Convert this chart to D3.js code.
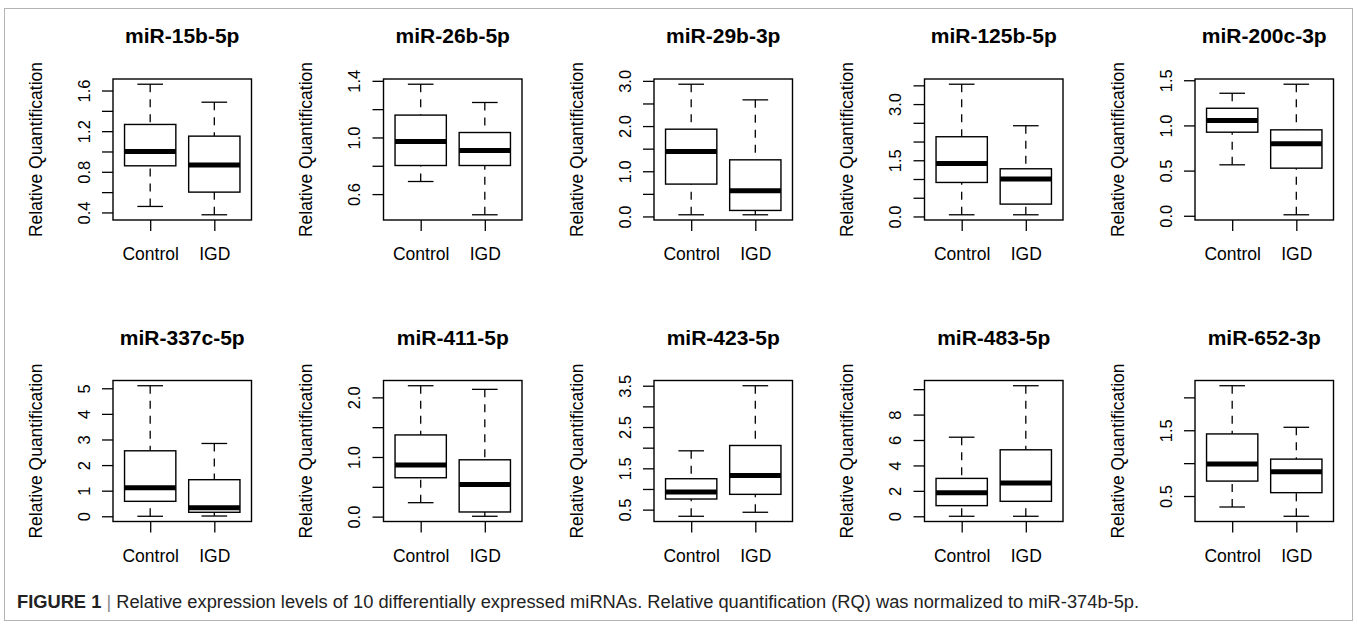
<!DOCTYPE html>
<html>
<head>
<meta charset="utf-8">
<script src="https://cdn.jsdelivr.net/npm/d3@7"></script>
<style>
  body { margin: 0; background: #fff; }
  svg { font-family: "Liberation Sans", Arial, Helvetica, sans-serif; }
</style>
</head>
<body>
<div id="chart"></div>
<script>
// panel titles, one per miRNA
var panelTitles = ["miR-15b-5p", "miR-26b-5p", "miR-29b-3p", "miR-125b-5p", "miR-200c-3p",
                   "miR-337c-5p", "miR-411-5p", "miR-423-5p", "miR-483-5p", "miR-652-3p"];

var groups = ["Control", "IGD"];

// boxplot stats: [lower whisker, Q1, median, Q3, upper whisker]
var controlStats = [
  [0.459, 0.859, 1.000, 1.266, 1.662],
  [0.689, 0.802, 0.972, 1.158, 1.376],
  [0.037, 0.716, 1.438, 1.931, 2.926],
  [0.045, 0.908, 1.416, 2.128, 3.530],
  [0.564, 0.925, 1.054, 1.190, 1.356],
  [0.000, 0.584, 1.117, 2.558, 5.100],
  [0.234, 0.652, 0.864, 1.370, 2.195],
  [0.339, 0.757, 0.926, 1.248, 1.924],
  [0.000, 0.837, 1.856, 2.980, 6.220],
  [0.333, 0.727, 0.985, 1.444, 2.177]
];
var igdStats = [
  [0.377, 0.600, 0.866, 1.151, 1.485],
  [0.454, 0.802, 0.908, 1.035, 1.247],
  [0.037, 0.133, 0.568, 1.253, 2.580],
  [0.045, 0.330, 0.997, 1.273, 2.422],
  [0.011, 0.527, 0.796, 0.951, 1.456],
  [0.010, 0.156, 0.338, 1.429, 2.844],
  [0.006, 0.078, 0.540, 0.953, 2.134],
  [0.436, 0.870, 1.329, 2.053, 3.500],
  [0.000, 1.176, 2.614, 5.230, 10.270],
  [0.192, 0.551, 0.869, 1.061, 1.545]
];

// y ticks and their labels (R skips labels that would overlap, so some are blank)
var yTicks = [
  [0.4, 0.6, 0.8, 1.0, 1.2, 1.4, 1.6],
  [0.6, 0.8, 1.0, 1.2, 1.4],
  [0, 0.5, 1.0, 1.5, 2.0, 2.5, 3.0],
  [0, 0.5, 1.0, 1.5, 2.0, 2.5, 3.0, 3.5],
  [0, 0.5, 1.0, 1.5],
  [0, 1, 2, 3, 4, 5],
  [0, 0.5, 1.0, 1.5, 2.0],
  [0.5, 1.0, 1.5, 2.0, 2.5, 3.0, 3.5],
  [0, 2, 4, 6, 8, 10],
  [0.5, 1.0, 1.5, 2.0]
];
var yTickLabels = [
  ["0.4", "", "0.8", "", "1.2", "", "1.6"],
  ["0.6", "", "1.0", "", "1.4"],
  ["0.0", "", "1.0", "", "2.0", "", "3.0"],
  ["0.0", "", "", "1.5", "", "", "3.0", ""],
  ["0.0", "0.5", "1.0", "1.5"],
  ["0", "1", "2", "3", "4", "5"],
  ["0.0", "", "1.0", "", "2.0"],
  ["0.5", "", "1.5", "", "2.5", "", "3.5"],
  ["0", "2", "4", "6", "8", ""],
  ["0.5", "", "1.5", ""]
];

var yLabel = "Relative Quantification";

var width = 1358;
var height = 626;

var svg = d3.select("#chart").append("svg")
    .attr("width", width)
    .attr("height", height)
    .attr("viewBox", [0, 0, width, height]);

// outer frame of the figure
svg.append("rect")
    .attr("x", 4.5).attr("y", 8.5)
    .attr("width", 1348).attr("height", 612)
    .attr("fill", "none")
    .attr("stroke", "#b4b4b4")
    .attr("stroke-width", 1);

var boxW = 138.5;
var boxH = 141;
var colStep = 270.5;
var rowTops = [79, 380.5];

function drawPanel(k) {
  var col = k % 5, row = Math.floor(k / 5);
  var left = 113 + col * colStep;
  var top = rowTops[row];

  var stats = [controlStats[k], igdStats[k]];
  // R pads the data range by 4% on each side
  var lo = d3.min(stats, s => s[0]);
  var hi = d3.max(stats, s => s[4]);
  var pad = (hi - lo) * 0.04;

  var y = d3.scaleLinear().domain([lo - pad, hi + pad]).range([boxH, 0]);
  var x = d3.scalePoint().domain(groups).range([0, boxW]).padding(0.58);
  var bw = x.step() * 0.8;

  var g = svg.append("g").attr("transform", `translate(${left},${top})`);

  // title
  g.append("text")
      .attr("x", boxW / 2)
      .attr("y", -36)
      .attr("text-anchor", "middle")
      .style("font-weight", "bold")
      .style("font-size", "21px")
      .text(panelTitles[k]);

  // y axis with rotated labels
  var yAxis = d3.axisLeft(y)
      .tickValues(yTicks[k])
      .tickFormat((d, i) => yTickLabels[k][i])
      .tickSize(11)
      .tickSizeOuter(0);
  g.append("g")
      .call(yAxis)
      .call(a => a.select(".domain").remove())
      .call(a => a.selectAll(".tick line").attr("stroke", "#000").attr("stroke-width", 1.3))
      .call(a => a.selectAll(".tick text")
          .attr("x", null).attr("dy", null)
          .attr("transform", "translate(-23.5,0) rotate(-90)")
          .attr("text-anchor", "middle")
          .attr("fill", "#000")
          .style("font-size", "16.5px")
          .style("font-family", null));

  // y axis title
  g.append("text")
      .attr("transform", `translate(-71.3,${boxH / 2}) rotate(-90)`)
      .attr("text-anchor", "middle")
      .style("font-size", "17.5px")
      .text(yLabel);

  // x axis
  var xAxis = d3.axisBottom(x).tickSize(11).tickSizeOuter(0);
  g.append("g")
      .attr("transform", `translate(0,${boxH})`)
      .call(xAxis)
      .call(a => a.select(".domain").remove())
      .call(a => a.selectAll(".tick line").attr("stroke", "#000").attr("stroke-width", 1.3))
      .call(a => a.selectAll(".tick text")
          .attr("y", 40).attr("dy", null)
          .attr("fill", "#000")
          .style("font-size", "17.5px")
          .style("font-family", null));

  // boxes
  var b = g.selectAll(".bx")
      .data(groups.map((name, i) => ({name: name, s: stats[i]})))
      .enter().append("g")
      .attr("class", "bx")
      .attr("transform", d => `translate(${x(d.name)},0)`);

  // whiskers: dashed from the extremes to the box
  b.append("line")
      .attr("y1", d => y(d.s[4])).attr("y2", d => y(d.s[3]))
      .attr("stroke", "#000").attr("stroke-width", 1.3)
      .attr("stroke-dasharray", "8,7");
  b.append("line")
      .attr("y1", d => y(d.s[0])).attr("y2", d => y(d.s[1]))
      .attr("stroke", "#000").attr("stroke-width", 1.3)
      .attr("stroke-dasharray", "8,7");

  // staples
  b.selectAll(".staple")
      .data(d => [d.s[0], d.s[4]])
      .enter().append("line")
      .attr("x1", -bw / 4).attr("x2", bw / 4)
      .attr("y1", v => y(v)).attr("y2", v => y(v))
      .attr("stroke", "#000").attr("stroke-width", 1.3);

  b.append("rect")
      .attr("x", -bw / 2)
      .attr("width", bw)
      .attr("y", d => y(d.s[3]))
      .attr("height", d => y(d.s[1]) - y(d.s[3]))
      .attr("fill", "#fff")
      .attr("stroke", "#000")
      .attr("stroke-width", 1.4);

  // median
  b.append("line")
      .attr("x1", -bw / 2).attr("x2", bw / 2)
      .attr("y1", d => y(d.s[2])).attr("y2", d => y(d.s[2]))
      .attr("stroke", "#000").attr("stroke-width", 5);

  // plot frame
  g.append("rect")
      .attr("width", boxW).attr("height", boxH)
      .attr("fill", "none")
      .attr("stroke", "#000")
      .attr("stroke-width", 1.4);
}

for (var k = 0; k < panelTitles.length; k++) drawPanel(k);

// caption
var cap = svg.append("text")
    .attr("x", 17)
    .attr("y", 608)
    .style("font-size", "18.3px")
    .attr("fill", "#222");
cap.append("tspan").style("font-weight", "bold").text("FIGURE 1");
cap.append("tspan").attr("fill", "#888").text(" | ");
cap.append("tspan").text("Relative expression levels of 10 differentially expressed miRNAs. Relative quantification (RQ) was normalized to miR-374b-5p.");
</script>
</body>
</html>
